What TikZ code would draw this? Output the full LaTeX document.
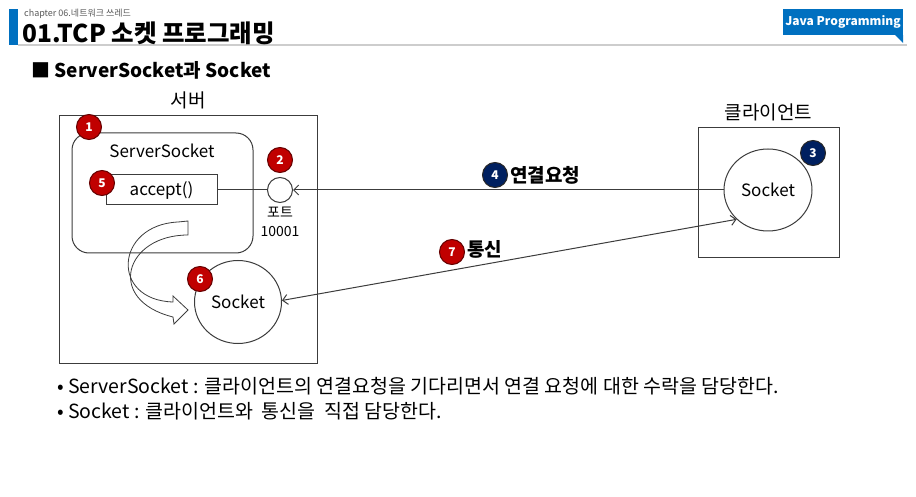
\documentclass[tikz,border=0pt]{standalone}
\usepackage{fontspec}
\setmainfont{Noto Sans CJK KR}
\usetikzlibrary{shapes.geometric, arrows.meta, positioning}
\definecolor{headerblue}{RGB}{0, 112, 192}
\definecolor{badgered}{RGB}{192, 0, 0}
\definecolor{badgeredline}{RGB}{100, 0, 0}
\definecolor{badgenavy}{RGB}{0, 32, 96}
\definecolor{linegray}{RGB}{60, 60, 60}
\definecolor{rulegray}{RGB}{205, 205, 205}
\definecolor{subgray}{RGB}{89, 89, 89}
\newcommand{\fsize}[1]{\fontsize{#1}{#1}\selectfont}

\begin{document}
\begin{tikzpicture}[
    x=1pt, y=-1pt,
    panel/.style={rectangle, draw=linegray, line width=1pt, inner sep=0pt},
    badge/.style={circle, minimum size=25pt, inner sep=0pt, line width=1pt, text=white, font=\fsize{12}\bfseries},
    redbadge/.style={badge, fill=badgered, draw=badgeredline},
    navybadge/.style={badge, fill=badgenavy, draw=black!85},
    sock/.style={ellipse, draw=linegray, line width=1pt, minimum width=87pt, minimum height=83pt, inner sep=0pt, font=\fsize{17}},
    lbl/.style={font=\fsize{17}, inner sep=0pt},
    arrow/.style={line width=1pt, draw=linegray, >={Straight Barb[length=5pt,width=10pt]}}
]
\useasboundingbox (0,0) rectangle (916,497);

% Header
\fill[headerblue] (9,9) rectangle (18,45);
\draw[rulegray, line width=1.5pt] (18,45) -- (907,45);
\node[anchor=west, inner sep=0pt, font=\fsize{9}, text=subgray] (chapter) at (24,14) {chapter 06.네트워크 쓰레드};
\node[anchor=west, inner sep=0pt, font=\fsize{24.5}\bfseries] (title) at (22,33) {01.TCP 소켓 프로그래밍};
\node[fill=headerblue, text=white, font=\fsize{12}\bfseries, minimum width=120pt, minimum height=26pt, inner sep=0pt] (javatag) at (843,22) {Java Programming};
\fill[headerblue] (javatag.south east) -- ++(-8,0) -- ++(8,8) -- cycle;
\node[anchor=west, inner sep=0pt, font=\fsize{19}\bfseries] (section) at (31,70) {■ ServerSocket과 Socket};

% Server
\node[panel, minimum width=258pt, minimum height=247pt] (server) at (188,239.5) {};
\node[lbl, font=\fsize{19}, above=6pt of server] (servername) {서버};
\node[panel, rounded corners=17pt, minimum width=181pt, minimum height=120pt] (listener) at (162.5,193) {};
\node[lbl] (listenername) at (162,151) {ServerSocket};
\node[panel, minimum width=111pt, minimum height=30pt, font=\fsize{17}] (accept) at (161.5,190) {accept()};
\node[circle, draw=linegray, line width=1pt, minimum size=25pt, inner sep=0pt] (port) at (280,190) {};
\node[lbl, font=\fsize{14}, below=4pt of port] (portname) {포트};
\node[lbl, font=\fsize{14}, below=8pt of portname] (portnum) {10001};
\node[sock] (serversock) at (238,302) {Socket};

% Curved hand-over arrow
\draw[linegray, line width=0.8pt] (178,222) -- (188,221) -- (188,235)
    .. controls (125,235) and (105,300) .. (173,317) -- (174,324) -- (188,310) -- (173,296) -- (173,302)
    .. controls (110,300) and (115,225) .. (178,222) -- cycle;

% Client
\node[panel, minimum width=141pt, minimum height=130pt] (client) at (768.5,193) {};
\node[lbl, font=\fsize{19}, above=6pt of client] (clientname) {클라이언트};
\node[sock, minimum width=88pt, minimum height=82pt] (clientsock) at (768,190) {Socket};

% Connectors
\draw[line width=1pt, linegray] (accept.east) -- (port.west);
\draw[arrow, ->] (clientsock.west) -- (port.east);
\draw[arrow, <->] (serversock.2) -- (clientsock.223);

% Badges
\node[redbadge] (b1) at (89,127) {1};
\node[redbadge] (b2) at (280,160) {2};
\node[navybadge] (b3) at (813,153) {3};
\node[navybadge] (b4) at (495,175) {4};
\node[redbadge] (b5) at (102,183) {5};
\node[redbadge] (b6) at (200,279) {6};
\node[redbadge] (b7) at (452,252) {7};
\node[lbl, font=\fsize{19}\bfseries, right=2pt of b4] (request) {연결요청};
\node[lbl, font=\fsize{19}\bfseries, right=2pt of b7, yshift=3pt] (talk) {통신};

% Notes
\node[anchor=west, inner sep=0pt, font=\fsize{19.5}] (note1) at (57,386) {• ServerSocket : 클라이언트의 연결요청을 기다리면서 연결 요청에 대한 수락을 담당한다.};
\node[anchor=west, inner sep=0pt, font=\fsize{19.5}] (note2) at (57,411) {• Socket : 클라이언트와\ \ 통신을\ \ 직접 담당한다.};

\end{tikzpicture}
\end{document}
